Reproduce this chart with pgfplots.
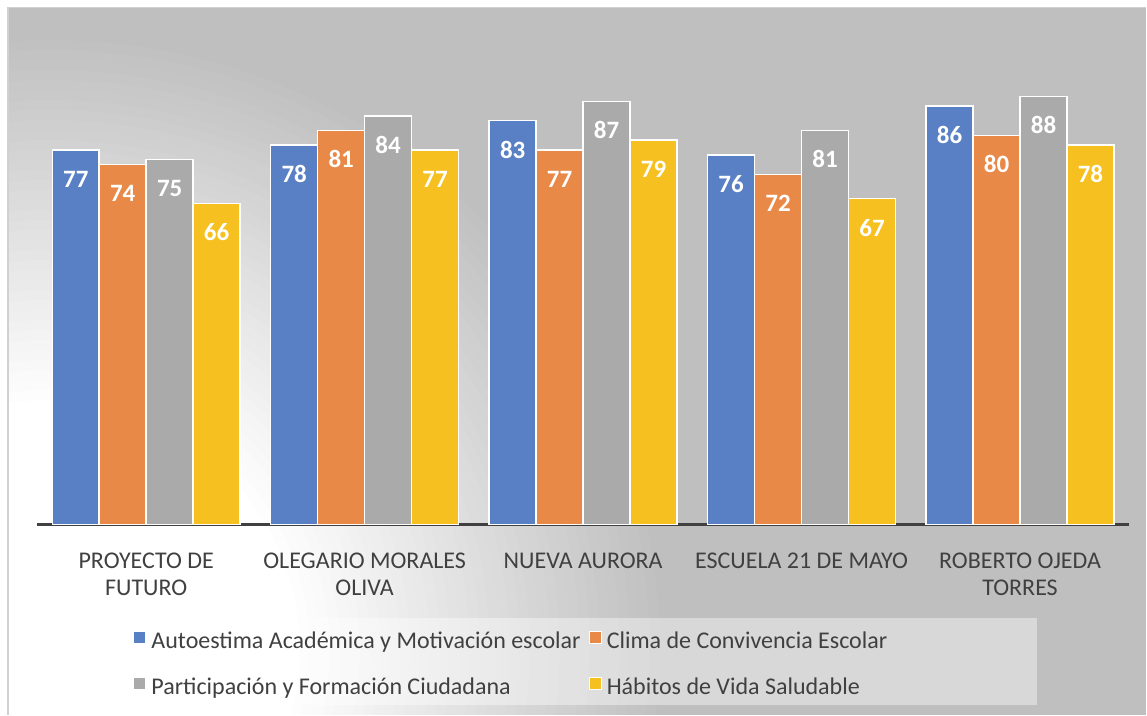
\documentclass[border=0pt]{standalone}
\usepackage{fontspec}
\setmainfont{Carlito}
\usepackage{pgfplots}
\pgfplotsset{compat=1.18}
\definecolor{cBlue}{RGB}{89,128,197}
\definecolor{cOrange}{RGB}{232,137,72}
\definecolor{cGray}{RGB}{170,170,170}
\definecolor{cYellow}{RGB}{246,192,32}
\definecolor{bgGray}{RGB}{191,191,191}
\definecolor{edgeGray}{RGB}{208,208,208}
\definecolor{txtGray}{RGB}{64,64,64}

\begin{document}
\begin{tikzpicture}
% background, 1px = 0.5pt, origin at top left
\fill[white] (0,0) rectangle (573.5pt,-357.5pt);
\begin{scope}
  \clip (4pt,-3.75pt) rectangle (573.5pt,-357.5pt);
  \fill[bgGray] (4pt,-3.75pt) rectangle (573.5pt,-357.5pt);
  % soft glow from the lower left
  \foreach \r in {310,305,...,125} {
    \pgfmathsetmacro\p{(\r-125)/1.85}
    \fill[bgGray!\p!white] (25pt,-325pt) circle (\r pt);
  }
\end{scope}
\draw[edgeGray, line width=0.75pt] (4pt,-357.5pt) -- (4pt,-3.75pt) -- (573.5pt,-3.75pt);
% legend panel
\fill[white, opacity=0.4] (61.5pt,-309pt) rectangle (519pt,-352.5pt);

\begin{axis}[
  at={(18.5pt,-262.5pt)}, anchor=south west,
  scale only axis, width=546.5pt, height=243.5pt,
  ybar=0pt, bar width=23.5pt,
  xmin=-0.5, xmax=4.5, ymin=0, ymax=100,
  axis x line*=bottom, axis y line=none,
  x axis line style={draw=txtGray, line width=1.5pt, -},
  xtick=data,
  xticklabels={{PROYECTO DE\\FUTURO},{OLEGARIO MORALES\\OLIVA},{NUEVA AURORA},{ESCUELA 21 DE MAYO},{ROBERTO OJEDA\\TORRES}},
  major tick length=0pt,
  xticklabel style={align=center, text=txtGray, font=\fontsize{12}{13.5}\selectfont, yshift=-10.8pt},
  nodes near coords,
  every node near coord/.append style={anchor=center, yshift=-14.5pt, text=white, font=\fontsize{12.5}{14}\selectfont\bfseries},
  /pgf/number format/assume math mode=true,
  clip=false,
  legend columns=2,
  legend cell align=left,
  legend image code/.code={\draw[#1, draw=white, line width=0.6pt] (0pt,-0.5pt) rectangle (6pt,5.5pt);},
  legend style={at={(0.0878,-0.2177)}, anchor=north west, draw=none, fill=none, inner sep=0pt,
    font=\fontsize{12}{14}\selectfont, text=txtGray,
    /tikz/every even column/.append style={column sep=1.5pt},
    nodes={inner xsep=2.5pt, inner ysep=0pt, text height=8.5pt, text depth=2.5pt},
    row sep=11.5pt},
]
\addplot[fill=cBlue, draw=white, line width=0.75pt] coordinates {(0,77) (1,78) (2,83) (3,76) (4,86)};
\addplot[fill=cOrange, draw=white, line width=0.75pt] coordinates {(0,74) (1,81) (2,77) (3,72) (4,80)};
\addplot[fill=cGray, draw=white, line width=0.75pt] coordinates {(0,75) (1,84) (2,87) (3,81) (4,88)};
\addplot[fill=cYellow, draw=white, line width=0.75pt] coordinates {(0,66) (1,77) (2,79) (3,67) (4,78)};
\legend{Autoestima Académica y Motivación escolar, Clima de Convivencia Escolar, Participación y Formación Ciudadana, Hábitos de Vida Saludable}
\end{axis}
\end{tikzpicture}
\end{document}
